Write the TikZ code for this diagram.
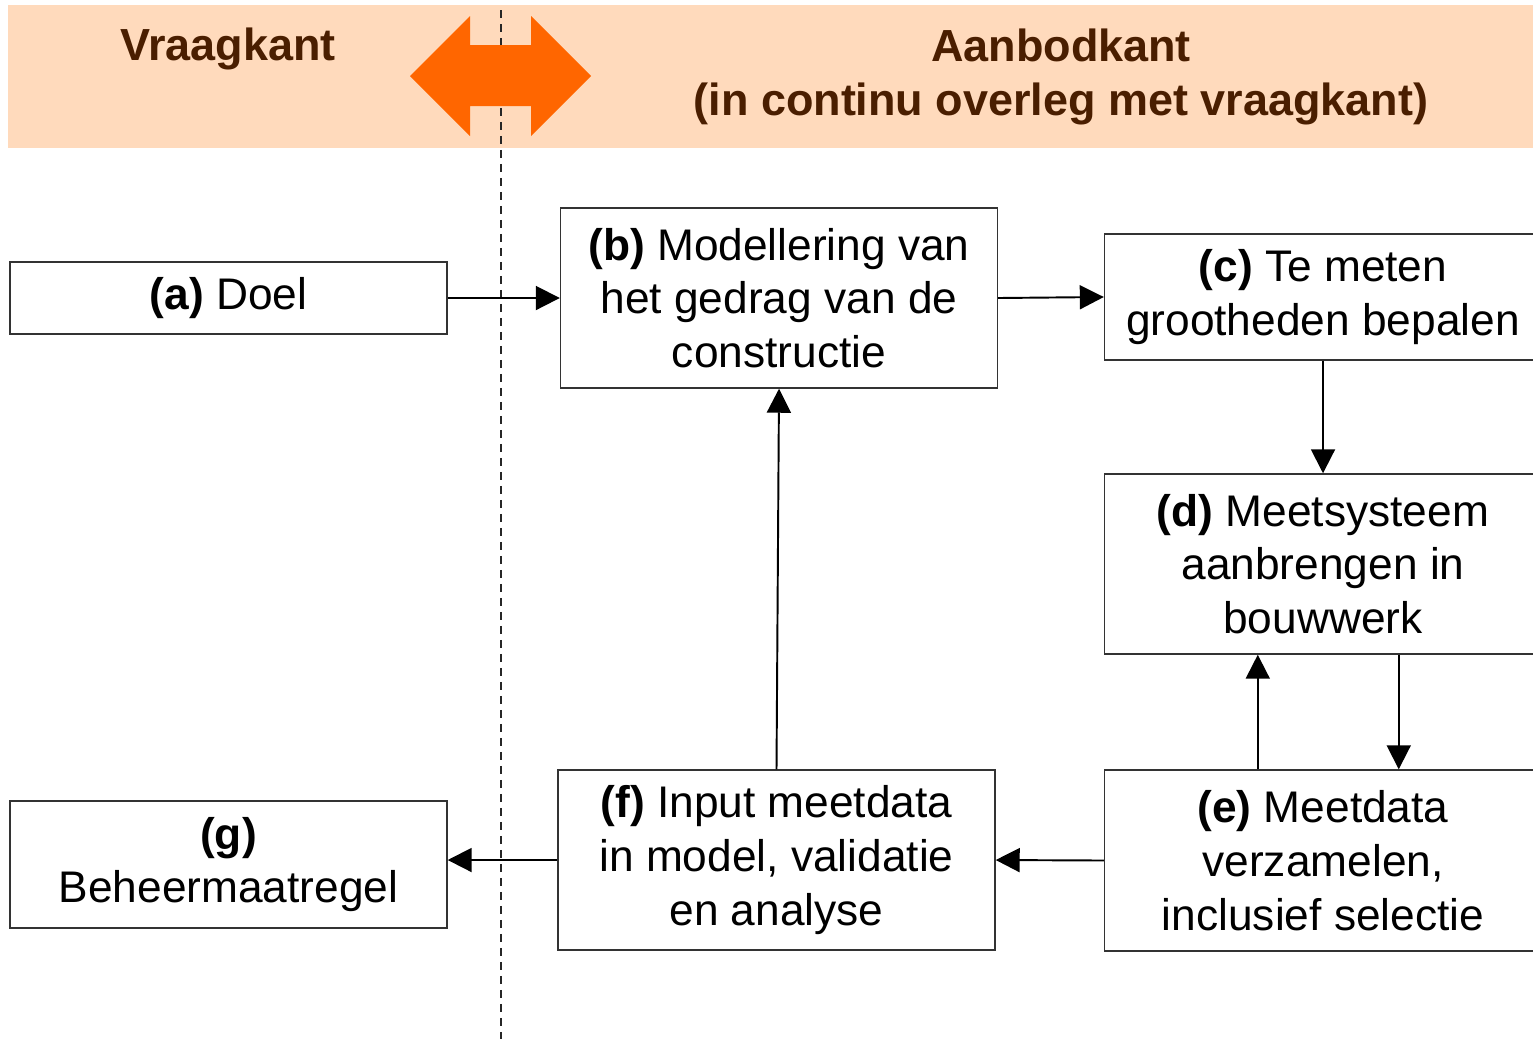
\documentclass[tikz,border=0pt]{standalone}
\usepackage{fontspec}
\setmainfont{Liberation Sans}
\usetikzlibrary{arrows.meta}
\definecolor{bandpeach}{RGB}{255,218,188}
\definecolor{duoorange}{RGB}{255,102,0}
\definecolor{titlebrown}{RGB}{74,30,0}
\begin{document}
\begin{tikzpicture}[x=0.02cm,y=-0.02cm,
    stap/.style={draw=black!80,line width=0.85pt,align=center,inner sep=0pt,
      minimum width=8.74cm,font=\fontsize{25.2}{30.6}\selectfont},
    kop/.style={align=center,text=titlebrown,font=\fontsize{25.6}{31.2}\selectfont\bfseries},
    flow/.style={line width=1.1pt,-{Triangle[length=0.48cm,width=0.48cm]}}]
  \useasboundingbox (0,0) rectangle (1533,1039);
  \fill[bandpeach] (8,5) rectangle (1533,148);
  \draw[black!85,line width=1.1pt,dash pattern=on 0.16cm off 0.12cm] (501,10) -- (501,1039);
  \fill[duoorange] (410,76) -- (470,16) -- (470,45) -- (531,45) -- (531,16) -- (591,76)
    -- (531,136) -- (531,106) -- (470,106) -- (470,136) -- cycle;
  \node[kop] (vraag) at (228,49) {Vraagkant};
  \node[kop] (aanbod) at (1061,77) {Aanbodkant\\(in continu overleg met vraagkant)};

  \node[stap,minimum height=1.44cm] (doel) at (228.5,298) {\textbf{(a)} Doel};
  \node[stap,minimum height=3.6cm] (model) at (779,298)
    {\textbf{(b)} Modellering van\\het gedrag van de\\constructie};
  \node[stap,minimum height=2.52cm] (grootheden) at (1323,297)
    {\textbf{(c)} Te meten\\grootheden bepalen};
  \node[stap,minimum height=3.6cm] (meetsysteem) at (1323,564)
    {\textbf{(d)} Meetsysteem\\aanbrengen in\\bouwwerk};
  \node[stap,minimum height=3.62cm] (meetdata) at (1323,860.5)
    {\textbf{(e)} Meetdata\\verzamelen,\\inclusief selectie};
  \node[stap,minimum height=3.6cm] (input) at (776.5,860)
    {\textbf{(f)} Input meetdata\\in model, validatie\\en analyse};
  \node[stap,minimum height=2.54cm] (beheer) at (228.5,864.5)
    {\textbf{(g)}\\Beheermaatregel};

  \draw[flow] (doel.east) -- (model.west);
  \draw[flow] (model.east) -- (grootheden.west);
  \draw[flow] (grootheden.south) -- (meetsysteem.north);
  \draw[flow] ([xshift=5.9cm]meetsysteem.south west) -- ([xshift=5.9cm]meetdata.north west);
  \draw[flow] ([xshift=3.08cm]meetdata.north west) -- ([xshift=3.08cm]meetsysteem.south west);
  \draw[flow] (meetdata.west) -- (input.east);
  \draw[flow] (input.north) -- (model.south);
  \draw[flow] (input.west) -- (beheer.east |- input.west);
\end{tikzpicture}
\end{document}
